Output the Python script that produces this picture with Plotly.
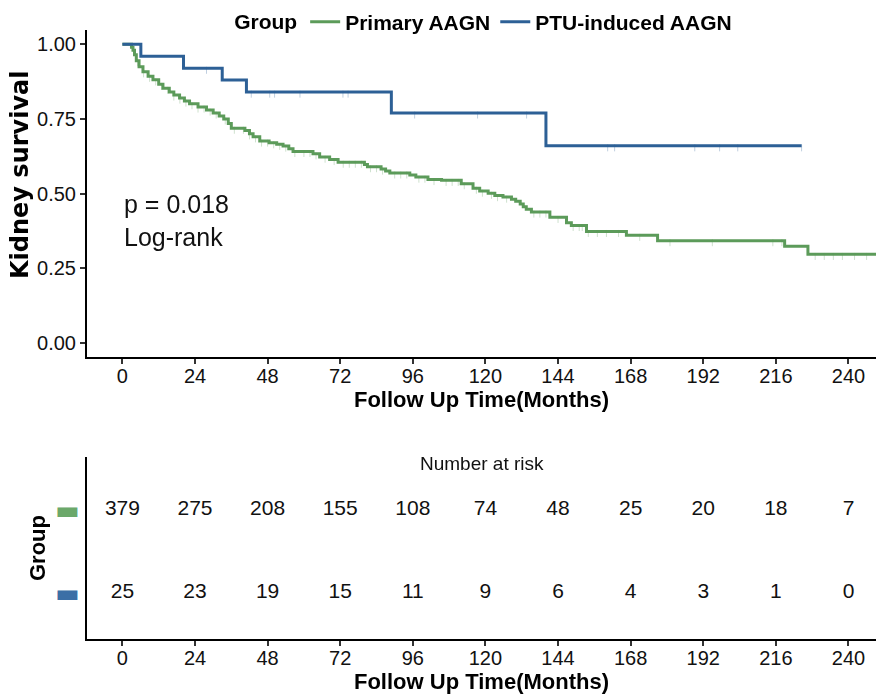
import numpy as np
import plotly.graph_objects as go

# ---------------- data ----------------
groups = ["Primary AAGN", "PTU-induced AAGN"]
colors = ["#5C9B5A", "#2D6096"]
swatch_colors = ["#6BA86A", "#3B6FA6"]

green_time = [0, 3.0, 3.5, 4.0, 4.6, 5.5, 6.8, 8.5, 10.1, 12.0, 13.4, 15.5, 17.0, 18.9, 20.5,
              22.2, 25.0, 27.8, 30.0, 32.0, 33.5, 35.0, 36.0, 40.5, 42.0, 43.2, 45.4, 48.5,
              51.0, 53.1, 55.0, 56.4, 63.0, 65.2, 68.5, 71.3, 80.0, 81.0, 85.5, 87.0, 88.4,
              95.0, 97.0, 101.0, 105.5, 112.0, 115.9, 118.1, 120.9, 123.1, 125.8, 128.6,
              130.0, 131.5, 132.5, 133.5, 135.2, 141.3, 146.8, 148.4, 153.4, 166.6, 176.9,
              218.9, 226.6, 252.0]
green_surv = [1.0, 0.99, 0.98, 0.965, 0.945, 0.925, 0.908, 0.893, 0.881, 0.866, 0.853, 0.840,
              0.830, 0.820, 0.810, 0.801, 0.790, 0.780, 0.770, 0.760, 0.750, 0.735, 0.719,
              0.711, 0.700, 0.690, 0.676, 0.670, 0.665, 0.659, 0.650, 0.641, 0.633, 0.622,
              0.614, 0.605, 0.597, 0.590, 0.582, 0.575, 0.569, 0.562, 0.555, 0.547, 0.544,
              0.533, 0.518, 0.508, 0.501, 0.493, 0.488, 0.481, 0.474, 0.465, 0.456, 0.447,
              0.438, 0.420, 0.402, 0.393, 0.373, 0.360, 0.342, 0.323, 0.296, 0.296]

blue_time = [0, 6.1, 20.2, 33.0, 41.0, 88.9, 140.0, 224.5]
blue_surv = [1.0, 0.96, 0.92, 0.88, 0.84, 0.77, 0.66, 0.66]

green_censor = [5, 7, 9, 11, 13, 15, 17, 19, 21, 23, 25, 27, 29, 31, 34, 37, 40, 42, 44, 46, 48,
                50, 52, 54, 57, 60, 62, 64, 67, 70, 73, 75, 77, 79, 82, 84, 86, 90, 92, 94, 98,
                100, 103, 107, 109, 111, 113, 117, 119, 122, 124, 127, 136, 138, 140, 144, 149,
                151, 152, 154, 157, 160, 164, 171, 181, 195, 215, 218, 229, 232, 235, 238, 242, 246]
blue_censor = [27.8, 42.6, 48.7, 50.3, 58.7, 72.9, 74.6, 96.6, 117.4, 133.6, 160.4, 162.7,
               189.2, 197.4, 203.4, 224.5]

risk_times = [0, 24, 48, 72, 96, 120, 144, 168, 192, 216, 240]
risk_green = [379, 275, 208, 155, 108, 74, 48, 25, 20, 18, 7]
risk_blue = [25, 23, 19, 15, 11, 9, 6, 4, 3, 1, 0]

y_ticks = [0.0, 0.25, 0.5, 0.75, 1.0]
y_ticklabels = ["0.00", "0.25", "0.50", "0.75", "1.00"]

FONT = "Liberation Sans, Arial, sans-serif"


def surv_at(times, surv, t):
    idx = np.searchsorted(np.array(times), np.array(t), side="right") - 1
    return np.array(surv)[idx]


fig = go.Figure()

series = [(green_time, green_surv, green_censor), (blue_time, blue_surv, blue_censor)]
for i, (t, s, c) in enumerate(series):
    fig.add_trace(go.Scatter(x=t, y=s, mode="lines", line=dict(color=colors[i], width=3, shape="hv"),
                             name=f"<b>{groups[i]}</b>", xaxis="x", yaxis="y", showlegend=True))
for i, (t, s, c) in enumerate(series):
    fig.add_trace(go.Scatter(x=c, y=surv_at(t, s, c) - 0.007, mode="markers",
                             marker=dict(symbol="line-ns", size=5, color=colors[i],
                                         line=dict(color=colors[i], width=1)),
                             opacity=0.3, showlegend=False, xaxis="x", yaxis="y", hoverinfo="skip"))

# risk table
for row, vals in [(1, risk_green), (0, risk_blue)]:
    fig.add_trace(go.Scatter(x=risk_times, y=[row] * len(vals), mode="text",
                             text=[str(v) for v in vals],
                             textfont=dict(family=FONT, size=21, color="#111"),
                             showlegend=False, xaxis="x2", yaxis="y2", hoverinfo="skip"))

axis_common = dict(showline=True, linecolor="black", linewidth=2, ticks="outside", ticklen=5,
                   tickwidth=1.5, tickcolor="#333", showgrid=False, zeroline=False,
                   tickfont=dict(family=FONT, size=20, color="#111"))

H = 696.0
W = 789.0
L = 87.0


def py(screen_y):
    return 1 - screen_y / H


def px(screen_x):
    return (screen_x - L) / W


x_range = [-11.7, 249.1]

fig.update_layout(
    width=876, height=696,
    margin=dict(l=87, r=0, t=0, b=0),
    plot_bgcolor="white", paper_bgcolor="white",
    font=dict(family=FONT, color="black"),
    xaxis=dict(domain=[0, 1], range=x_range, tickvals=risk_times, anchor="y",
               ticklabelstandoff=-5,
               title=dict(text="<b>Follow Up Time(Months)</b>", font=dict(family=FONT, size=22), standoff=2),
               automargin=False, **axis_common),
    yaxis=dict(domain=[py(357), py(30)], range=[-0.048, 1.048], tickvals=y_ticks, ticktext=y_ticklabels,
               anchor="x", automargin=False, **axis_common),
    xaxis2=dict(domain=[0, 1], range=x_range, tickvals=risk_times, anchor="y2",
                ticklabelstandoff=-5,
                title=dict(text="<b>Follow Up Time(Months)</b>", font=dict(family=FONT, size=22), standoff=2),
                automargin=False, **axis_common),
    yaxis2=dict(domain=[py(639), py(457)], range=[-0.554, 1.639], anchor="x2",
                tickvals=[1, 0],
                ticktext=[f'<span style="color:{swatch_colors[0]}">▬</span>',
                          f'<span style="color:{swatch_colors[1]}">▬</span>'],
                showline=True, linecolor="black", linewidth=2, ticks="", showgrid=False, zeroline=False,
                tickfont=dict(family="DejaVu Sans", size=26),
                title=dict(text="<b>Group</b>", font=dict(family=FONT, size=22), standoff=4),
                automargin=False),
    legend=dict(orientation="h", x=0.504, xanchor="center", y=py(22), yanchor="middle",
                font=dict(family=FONT, size=21, color="black"),
                title=dict(text="<b>Group</b>", font=dict(family=FONT, size=21)),
                itemwidth=30, bgcolor="rgba(0,0,0,0)"),
    annotations=[
        dict(x=px(20), y=py(175), xref="paper", yref="paper", xanchor="center", yanchor="middle",
             textangle=-90, text="<b>Kidney survival</b>", showarrow=False,
             font=dict(family="DejaVu Sans", size=24, color="black")),
        dict(x=0, y=0.41, xref="x", yref="y", xanchor="left", yanchor="middle", align="left",
             text="p = 0.018<br>Log-rank", showarrow=False, font=dict(family=FONT, size=25, color="#111")),
        dict(x=0.5, y=py(463), xref="paper", yref="paper", xanchor="center", yanchor="middle",
             text="Number at risk", showarrow=False, font=dict(family=FONT, size=19, color="#111")),
    ],
)

fig.write_html("out.html", config={"displayModeBar": False},
               post_script="document.body.style.margin='0px';")
